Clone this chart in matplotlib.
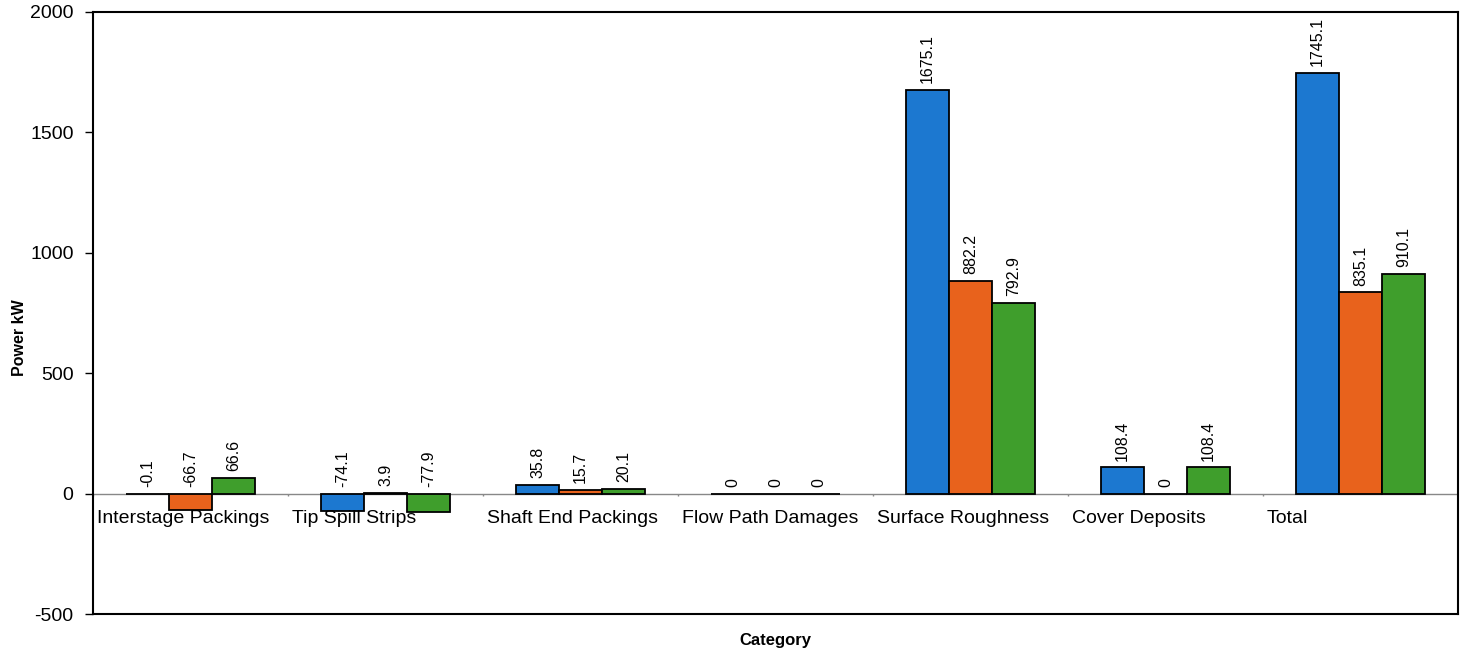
import numpy as np
import matplotlib.pyplot as plt

plt.rcParams['font.family'] = ['Liberation Sans', 'DejaVu Sans']
plt.rcParams['axes.unicode_minus'] = False

categories = ["Interstage Packings", "Tip Spill Strips", "Shaft End Packings",
              "Flow Path Damages", "Surface Roughness", "Cover Deposits", "Total"]
series_a = [-0.1, -74.1, 35.8, 0, 1675.1, 108.4, 1745.1]
series_b = [-66.7, 3.9, 15.7, 0, 882.2, 0, 835.1]
series_c = [66.6, -77.9, 20.1, 0, 792.9, 108.4, 910.1]
labels_a = ["-0.1", "-74.1", "35.8", "0", "1675.1", "108.4", "1745.1"]
labels_b = ["-66.7", "3.9", "15.7", "0", "882.2", "0", "835.1"]
labels_c = ["66.6", "-77.9", "20.1", "0", "792.9", "108.4", "910.1"]
y_ticks = [-500, 0, 500, 1000, 1500, 2000]

colors = ["#1c78d0", "#e8621c", "#3f9e2c"]

fig = plt.figure(figsize=(14.6, 6.53), dpi=100)
ax = fig.add_axes([0.0637, 0.0597, 0.935, 0.922])

x = np.arange(len(categories))
w = 0.22
for k, (vals, labs) in enumerate([(series_a, labels_a), (series_b, labels_b), (series_c, labels_c)]):
    xs = x + (k - 1) * w
    ax.bar(xs, vals, width=w, color=colors[k], edgecolor="black", linewidth=1.3, zorder=3)
    for xi, v, lab in zip(xs, vals, labs):
        ax.annotate(lab, (xi, max(v, 0)), xytext=(0, 5), textcoords="offset points",
                    rotation=90, ha="center", va="bottom", fontsize=11.5)

ax.set_xlim(-0.5, len(categories) - 0.5)
ax.set_ylim(-500, 2000)
ax.set_yticks(y_ticks)
ax.tick_params(axis="y", labelsize=14, direction="out", length=6, width=1, pad=8)
ax.set_xticks([])

# zero line with small category dividers
ax.axhline(0, color="#888888", linewidth=1, zorder=2)
ax.vlines(np.arange(len(categories) + 1) - 0.5, -12, 0, color="#888888", linewidth=1, zorder=2)

for i, c in enumerate(categories):
    ax.annotate(c, (i - 0.48, 0), xytext=(0, -12), textcoords="offset points",
                ha="left", va="top", fontsize=14)

for s in ax.spines.values():
    s.set_linewidth(1.5)
    s.set_color("black")

fig.text(20 / 1460, 1 - 338 / 653, "Power kW", rotation=90, ha="center", va="center",
         fontsize=11.5, fontweight="bold")
ax.set_xlabel("Category", fontsize=12, fontweight="bold", labelpad=14)

fig.savefig("out.png", dpi=100)
